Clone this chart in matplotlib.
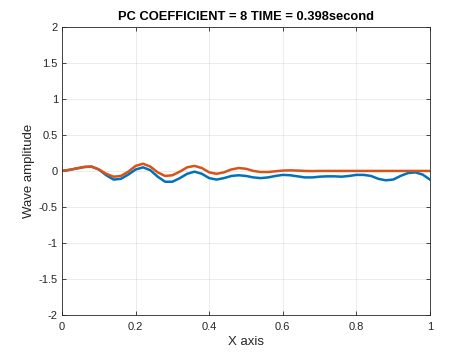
import matplotlib
matplotlib.use("Agg")
import matplotlib.pyplot as plt
import numpy as np

# values, step 0.02 on x
x = np.round(np.arange(0, 1.0001, 0.02), 2)
blue = [0.0, 0.015, 0.035, 0.055, 0.06, 0.02, -0.06, -0.12, -0.11, -0.05,
        0.02, 0.05, 0.01, -0.08, -0.15, -0.15, -0.10, -0.04, -0.01, -0.04,
        -0.10, -0.12, -0.10, -0.07, -0.06, -0.07, -0.09, -0.10, -0.09, -0.07,
        -0.055, -0.06, -0.075, -0.09, -0.09, -0.08, -0.075, -0.075, -0.08, -0.07,
        -0.055, -0.055, -0.07, -0.11, -0.13, -0.12, -0.07, -0.03, -0.02, -0.05,
        -0.12]
orange = [0.0, 0.015, 0.035, 0.055, 0.06, 0.02, -0.04, -0.08, -0.07, -0.01,
          0.07, 0.10, 0.06, -0.02, -0.07, -0.06, -0.01, 0.05, 0.07, 0.04,
          -0.02, -0.04, -0.02, 0.02, 0.04, 0.03, 0.0, -0.015, -0.015, -0.005,
          0.005, 0.008, 0.005, 0.0, -0.002, 0.0, 0.0, 0.0, 0.0, 0.0,
          0.0, 0.0, 0.0, 0.0, 0.0, 0.0, 0.0, 0.0, 0.0, 0.0,
          0.0]

xticks = [0, 0.2, 0.4, 0.6, 0.8, 1]
xticklabels = ["0", "0.2", "0.4", "0.6", "0.8", "1"]
yticks = [-2, -1.5, -1, -0.5, 0, 0.5, 1, 1.5, 2]
yticklabels = ["-2", "-1.5", "-1", "-0.5", "0", "0.5", "1", "1.5", "2"]

plt.rcParams["font.family"] = ["Liberation Sans", "DejaVu Sans"]

fig = plt.figure(figsize=(4.74, 3.55), dpi=100)
ax = fig.add_axes([0.131, 0.113, 0.776, 0.811])

ax.plot(x, blue, color="#0072BD", linewidth=1.8, solid_joinstyle="round")
ax.plot(x, orange, color="#D95319", linewidth=1.8, solid_joinstyle="round")

ax.set_xlim(0, 1)
ax.set_ylim(-2, 2)
ax.set_xticks(xticks)
ax.set_xticklabels(xticklabels)
ax.set_yticks(yticks)
ax.set_yticklabels(yticklabels)

ax.grid(True, color="#262626", alpha=0.1, linewidth=0.6)
ax.tick_params(direction="in", length=3, width=0.6, colors="#262626",
               labelsize=8, top=True, right=True)
ax.tick_params(axis="x", pad=5)
ax.tick_params(axis="y", pad=3)
for s in ax.spines.values():
    s.set_color("#262626")
    s.set_linewidth(0.6)

ax.set_xlabel("X axis", fontsize=9.5, color="#262626", labelpad=3)
ax.set_ylabel("Wave amplitude", fontsize=9.5, color="#262626", labelpad=3)
ax.set_title("PC COEFFICIENT = 8 TIME = 0.398second", fontsize=9.3,
             fontweight="bold", color="black", pad=5)

fig.savefig("out.png", dpi=100, facecolor="white")
